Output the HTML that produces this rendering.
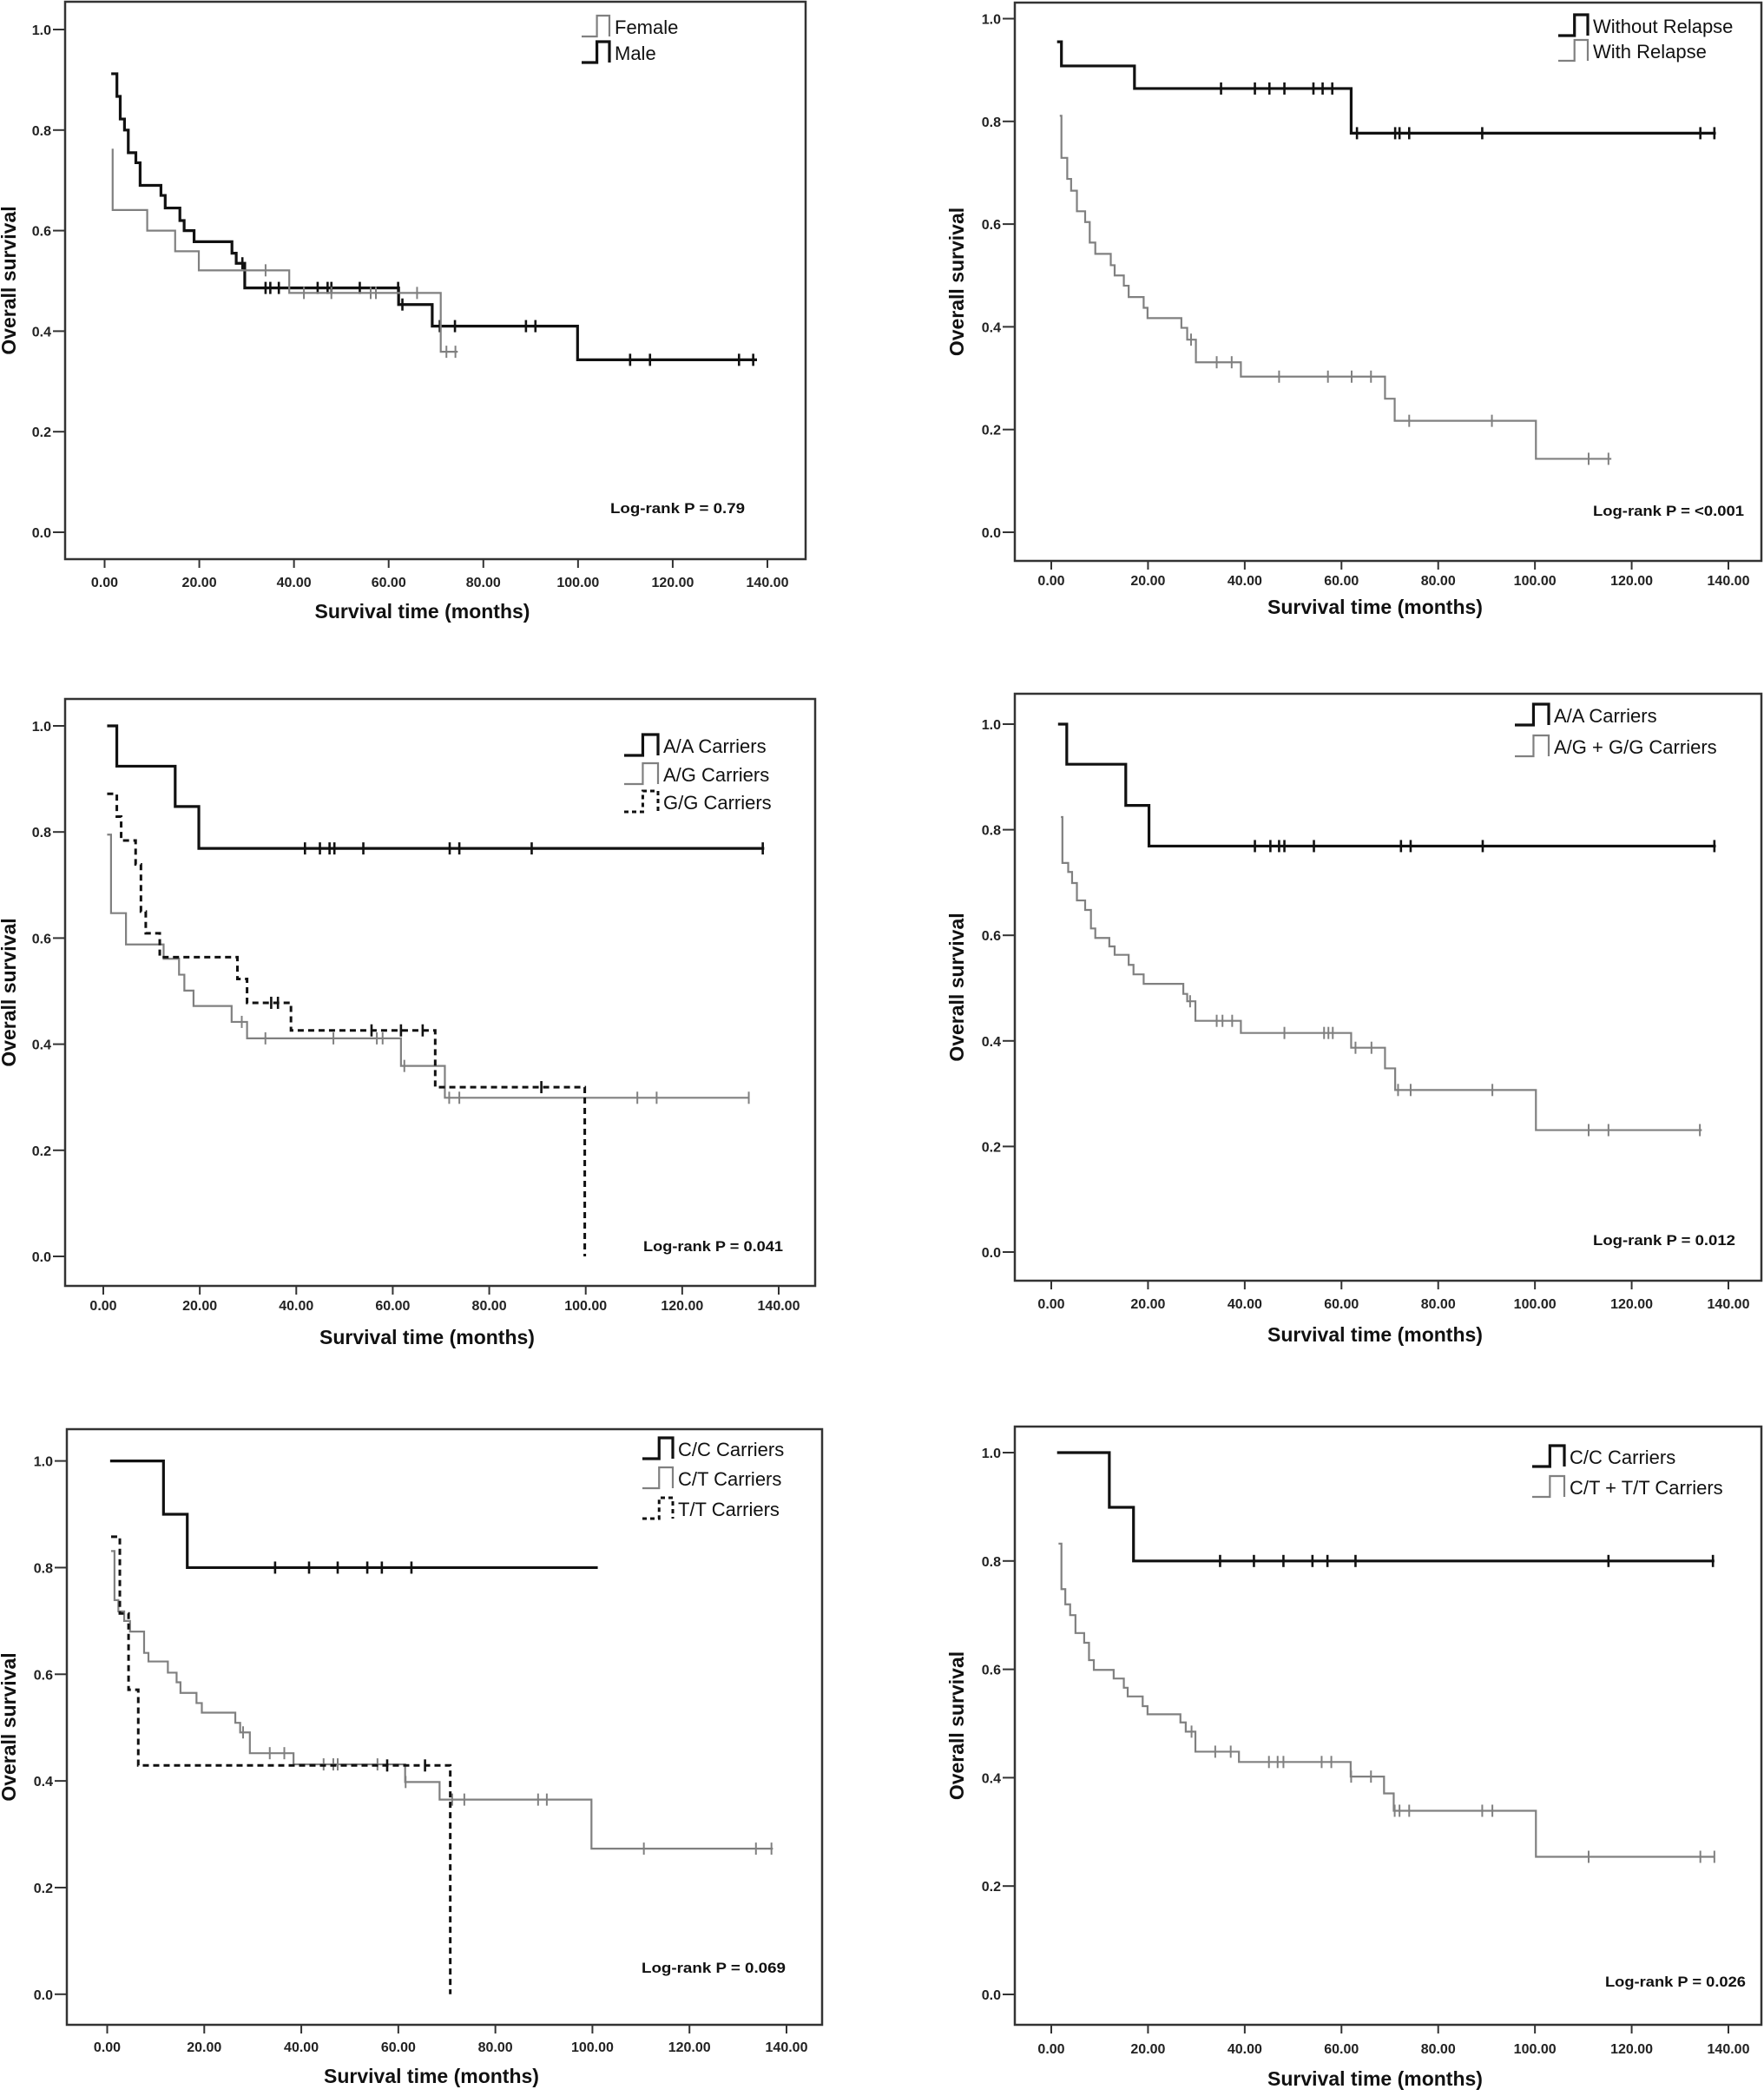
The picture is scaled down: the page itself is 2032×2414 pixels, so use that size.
<!DOCTYPE html>
<html><head><meta charset="utf-8"><style>
html,body{margin:0;padding:0;background:#fff;}
svg{display:block;font-family:"Liberation Sans",sans-serif;}
.tk{font-size:16px;font-weight:bold;fill:#222;}
.ttl{font-size:23px;font-weight:bold;fill:#111;}
.lg{font-size:22px;fill:#111;}
.lr{font-size:17px;font-weight:bold;fill:#111;}
</style></head><body>
<svg id="fig" width="2032" height="2414" viewBox="0 0 2032 2414"></svg>
<script>
// ---------- data (times in months, survival proportions) ----------
const xTickLabels = ["0.00","20.00","40.00","60.00","80.00","100.00","120.00","140.00"];
const xTickValues = [0,20,40,60,80,100,120,140];
const yTickLabels = ["0.0","0.2","0.4","0.6","0.8","1.0"];
const yTickValues = [0,0.2,0.4,0.6,0.8,1.0];

// Panel 1: sex
const p1MaleT = [1.4,2.6,3.3,4.2,5.0,6.6,7.5,11.9,12.8,15.9,16.8,18.9,26.9,27.8,29.6,62.1,69.2,99.9];
const p1MaleV = [0.912,0.867,0.822,0.80,0.755,0.735,0.69,0.67,0.645,0.62,0.60,0.578,0.555,0.535,0.486,0.453,0.41,0.343];
const p1MaleEnd = 137.8;
const p1MaleCens = [29.1,34,35,36.8,45,47.1,47.9,53.9,62,62.9,70.8,74,89,91,111,115.2,134,137];
const p1FemT = [1.5,1.7,9,14.9,19.9,39,71];
const p1FemV = [0.761,0.641,0.60,0.559,0.521,0.476,0.359];
const p1FemEnd = 74.6;
const p1FemCens = [34,42.1,47.9,56.2,57.3,66,72.2,74.1];

// Panel 2: relapse
const p2NoRelT = [1.2,2.1,17.2,62];
const p2NoRelV = [0.955,0.908,0.864,0.777];
const p2NoRelEnd = 137.4;
const p2NoRelCens = [35.1,42.1,45.1,48.2,54.2,56.1,58.1,63.2,71.1,72,74,89.1,134.2,137.1];
const p2RelT = [1.75,2.1,3.3,4.1,5.3,7,7.95,9.1,12.3,13.1,15,16,19.1,19.9,26.9,28.1,29.9,39.2,69,71,100.2];
const p2RelV = [0.811,0.729,0.688,0.665,0.625,0.604,0.564,0.542,0.52,0.50,0.48,0.458,0.437,0.417,0.398,0.375,0.331,0.303,0.26,0.217,0.143];
const p2RelEnd = 115.8;
const p2RelCens = [28.9,34.2,37.3,47.1,57.2,62.1,66.1,74,91.1,111.1,115.2];

// Panel 3: A/A, A/G, G/G
const p3AAT = [0.8,2.8,14.9,19.8];
const p3AAV = [1.0,0.924,0.848,0.769];
const p3AAEnd = 137;
const p3AACens = [41.8,44.9,46.9,47.9,53.9,71.8,73.8,88.8,136.7];
const p3AGT = [0.8,1.6,4.7,12.5,15.7,16.8,18.7,26.6,29.8,61.7,70.8];
const p3AGV = [0.795,0.647,0.588,0.561,0.531,0.501,0.472,0.442,0.411,0.359,0.299];
const p3AGEnd = 133.8;
const p3AGCens = [28.7,33.6,47.7,56.7,57.9,62.4,71.7,73.8,110.7,114.7,133.8];
const p3GGT = [0.8,2.8,3.7,6.7,7.8,8.8,11.7,27.8,29.8,38.9,68.8,99.8];
const p3GGV = [0.872,0.829,0.784,0.739,0.65,0.609,0.564,0.523,0.478,0.426,0.319,0];
const p3GGEnd = 99.8;
const p3GGCens = [34.8,36.2,55.6,61.7,66.2,90.8];

// Panel 4: A/A vs A/G+G/G
const p4AAT = [1.4,3.2,15.4,20.2];
const p4AAV = [1.0,0.924,0.846,0.769];
const p4AAEnd = 137.4;
const p4AACens = [42.1,45.3,47.1,48.2,54.3,72.3,74.3,89.2,137.1];
const p4GT = [2,2.3,3.5,4.3,5.3,7,8.2,9.1,12,13.1,16,17,19.1,27.3,28.1,29.8,39.2,62,69,71.1,100.2];
const p4GV = [0.824,0.737,0.72,0.699,0.666,0.648,0.613,0.595,0.579,0.563,0.544,0.526,0.508,0.489,0.475,0.438,0.415,0.387,0.348,0.307,0.231];
const p4GEnd = 134.5;
const p4GCens = [28.7,34.2,35.4,37.4,48.2,56.4,57.3,58.2,62.9,66.2,71.7,74.3,91.2,111.1,115.2,134.1];

// Panel 5: C/C, C/T, T/T
const p5CCT = [0.6,11.6,16.5];
const p5CCV = [1.0,0.90,0.80];
const p5CCEnd = 101.1;
const p5CCCens = [34.6,41.6,47.5,53.6,56.6,62.7];
const p5CTT = [0.8,1.5,2.3,3.5,4.7,7.6,8.5,12.5,14.3,15.1,18.4,19.5,26.4,27.4,29.4,38.4,61.4,68.5,99.8];
const p5CTV = [0.831,0.739,0.718,0.70,0.68,0.64,0.624,0.603,0.585,0.565,0.546,0.528,0.509,0.491,0.452,0.431,0.398,0.365,0.273];
const p5CTEnd = 137.2;
const p5CTCens = [28,33.5,36.5,44.6,46.6,47.5,55.7,61.5,71.1,73.6,88.8,90.6,110.6,133.7,136.9];
const p5TTT = [0.8,2.6,4.4,6.4,70.7];
const p5TTV = [0.858,0.714,0.571,0.429,0];
const p5TTEnd = 70.7;
const p5TTCens = [57.7,65.5];

// Panel 6: C/C vs C/T+T/T
const p6CCT = [1.2,12,17];
const p6CCV = [1.0,0.899,0.80];
const p6CCEnd = 137.1;
const p6CCCens = [34.9,41.9,48,54,57.1,62.9,115.2,136.8];
const p6TT = [1.5,2.1,2.9,3.9,5,6.8,7.8,8.8,12.9,15,15.8,18.9,19.9,26.7,27.8,29.8,38.8,61.9,68.8,70.8,100.2];
const p6TV = [0.832,0.748,0.72,0.70,0.667,0.649,0.617,0.599,0.583,0.566,0.55,0.532,0.517,0.502,0.485,0.448,0.429,0.402,0.371,0.339,0.254];
const p6TEnd = 137;
const p6TCens = [29,33.9,37.1,45,46.8,48,55.9,57.9,62,66.1,71,72,74,89.1,91.2,111.1,134.2,137.1];

const p1Legend = ["Female","Male"];
const p2Legend = ["Without Relapse","With Relapse"];
const p3Legend = ["A/A Carriers","A/G Carriers","G/G Carriers"];
const p4Legend = ["A/A Carriers","A/G + G/G Carriers"];
const p5Legend = ["C/C Carriers","C/T Carriers","T/T Carriers"];
const p6Legend = ["C/C Carriers","C/T + T/T Carriers"];
const pValues = ["Log-rank P = 0.79","Log-rank P = <0.001","Log-rank P = 0.041","Log-rank P = 0.012","Log-rank P = 0.069","Log-rank P = 0.026"];

// ---------- drawing ----------
const NS = "http://www.w3.org/2000/svg";
const svg = document.getElementById("fig");
function mk(tag, attrs, parent){
  const e = document.createElementNS(NS, tag);
  for (const k in attrs) e.setAttribute(k, attrs[k]);
  (parent||svg).appendChild(e);
  return e;
}
const BLACK = {stroke:"#111","stroke-width":3.2,dash:null};
const GRAY = {stroke:"#808080","stroke-width":2.2,dash:null};
const DASH = {stroke:"#111","stroke-width":3,dash:"7,5"};

function stepAt(ts, vs, t){
  let v = vs[0];
  for (let i=0;i<ts.length;i++){ if (ts[i] <= t + 1e-9) v = vs[i]; }
  return v;
}

function drawPanel(g, cfg, series, legendLabels, pText){
  const sx = t => cfg.x0 + (cfg.x140 - cfg.x0) * t / 140;
  const sy = v => cfg.y0 + (cfg.y1 - cfg.y0) * v;
  const frame = mk("rect",{x:cfg.left,y:cfg.top,width:cfg.right-cfg.left,height:cfg.bottom-cfg.top,fill:"none",stroke:"#333","stroke-width":2.5},g);
  
  
  // y ticks
  yTickValues.forEach((v,i)=>{
    const tk = mk("line",{x1:cfg.left-14,x2:cfg.left,y1:sy(v),y2:sy(v),stroke:"#333","stroke-width":2},g);
    
    
    const tl = mk("text",{x:cfg.left-16,y:sy(v)+6,"text-anchor":"end",class:"tk"},g);
    tl.textContent = yTickLabels[i];
    
    
  });
  // x ticks
  xTickValues.forEach((t,i)=>{
    const tk = mk("line",{x1:sx(t),x2:sx(t),y1:cfg.bottom,y2:cfg.bottom+10,stroke:"#333","stroke-width":2},g);
    
    
    const tl = mk("text",{x:sx(t),y:cfg.xlab,"text-anchor":"middle",class:"tk"},g);
    tl.textContent = xTickLabels[i];
    
    
  });
  const xt = mk("text",{x:(cfg.left+cfg.right)/2 - 15,y:cfg.xtitle,"text-anchor":"middle",class:"ttl"},g);
  xt.textContent = "Survival time (months)";
  
  
  const ym = (cfg.top+cfg.bottom)/2;
  const yt = mk("text",{x:cfg.ytx,y:ym,"text-anchor":"middle",class:"ttl",transform:"rotate(-90 "+cfg.ytx+" "+ym+")"},g);
  yt.textContent = "Overall survival";
  
  
  // series
  series.forEach(s=>{
    let d = "M"+sx(s.t[0])+","+sy(s.v[0]);
    for (let i=1;i<s.t.length;i++) d += " H"+sx(s.t[i])+" V"+sy(s.v[i]);
    d += " H"+sx(s.end);
    const p = mk("path",{d:d,fill:"none",stroke:s.sty.stroke,"stroke-width":s.sty["stroke-width"]},g);
    if (s.sty.dash) p.setAttribute("stroke-dasharray", s.sty.dash);
    
    
    s.c.forEach(t=>{
      const v = stepAt(s.t, s.v, t);
      const m = mk("line",{x1:sx(t),x2:sx(t),y1:sy(v)-7,y2:sy(v)+7,stroke:s.sty.stroke,"stroke-width":s.sty===GRAY?2:2.6},g);
      
      
    });
  });
  // legend
  cfg.legRows.forEach((ly,i)=>{
    const s = series[cfg.legOrder[i]];
    const x0 = cfg.legX, w = cfg.legW;
    const d = "M"+x0+","+(ly+11)+" H"+(x0+w*0.55)+" V"+(ly-13)+" H"+(x0+w)+" V"+(ly+11);
    const p = mk("path",{d:d,fill:"none",stroke:s.sty.stroke,"stroke-width":s.sty["stroke-width"]},g);
    if (s.sty.dash) p.setAttribute("stroke-dasharray","5,4");
    
    
    const t = mk("text",{x:x0+w+6,y:ly+8,class:"lg","font-size":cfg.legFont},g);
    t.textContent = legendLabels[i];
    
    
  });
  const lr = mk("text",{x:cfg.pX,y:cfg.pY,class:"lr",textLength:cfg.pW,lengthAdjust:"spacingAndGlyphs"},g);
  lr.textContent = pText;
  
  
}

function S(name,t,v,end,c,sty){ return {name:name,t:t,v:v,end:end,c:c,sty:sty}; }

const panels = [
 {cfg:{left:75,right:928,top:2,bottom:644,x0:120.5,x140:884,y1:34,y0:613,xlab:676,xtitle:712,ytx:18,
   legRows:[31,61],legOrder:[1,0],legX:670,legW:32,legFont:19,pX:703,pY:591,pW:155},
  series:[S("male",p1MaleT,p1MaleV,p1MaleEnd,p1MaleCens,BLACK),S("female",p1FemT,p1FemV,p1FemEnd,p1FemCens,GRAY)],
  leg:p1Legend,name:"panel-sex"},
 {cfg:{left:1169,right:2029,top:3,bottom:646,x0:1211,x140:1991,y1:21.5,y0:613,xlab:674,xtitle:707,ytx:1110,
   legRows:[30,59],legOrder:[0,1],legX:1795,legW:34,legFont:20,pX:1835,pY:594,pW:174},
  series:[S("without-relapse",p2NoRelT,p2NoRelV,p2NoRelEnd,p2NoRelCens,BLACK),S("with-relapse",p2RelT,p2RelV,p2RelEnd,p2RelCens,GRAY)],
  leg:p2Legend,name:"panel-relapse"},
 {cfg:{left:75,right:939,top:805,bottom:1481,x0:119,x140:897,y1:836,y0:1447,xlab:1509,xtitle:1548,ytx:18,
   legRows:[859,892,924],legOrder:[0,1,2],legX:719,legW:39,legFont:23,pX:741,pY:1441,pW:161},
  series:[S("aa",p3AAT,p3AAV,p3AAEnd,p3AACens,BLACK),S("ag",p3AGT,p3AGV,p3AGEnd,p3AGCens,GRAY),S("gg",p3GGT,p3GGV,p3GGEnd,p3GGCens,DASH)],
  leg:p3Legend,name:"panel-aa-ag-gg"},
 {cfg:{left:1169,right:2029,top:799,bottom:1475,x0:1211,x140:1991,y1:834,y0:1442,xlab:1507,xtitle:1545,ytx:1110,
   legRows:[824,860],legOrder:[0,1],legX:1745,legW:39,legFont:23,pX:1835,pY:1434,pW:164},
  series:[S("aa",p4AAT,p4AAV,p4AAEnd,p4AACens,BLACK),S("ag-gg",p4GT,p4GV,p4GEnd,p4GCens,GRAY)],
  leg:p4Legend,name:"panel-aa-vs-ag-gg"},
 {cfg:{left:77,right:947,top:1646,bottom:2332,x0:123.5,x140:906,y1:1682.6,y0:2296.8,xlab:2363,xtitle:2399,ytx:18,
   legRows:[1669,1703,1738],legOrder:[0,1,2],legX:740,legW:35,legFont:23,pX:739,pY:2272,pW:166},
  series:[S("cc",p5CCT,p5CCV,p5CCEnd,p5CCCens,BLACK),S("ct",p5CTT,p5CTV,p5CTEnd,p5CTCens,GRAY),S("tt",p5TTT,p5TTV,p5TTEnd,p5TTCens,DASH)],
  leg:p5Legend,name:"panel-cc-ct-tt"},
 {cfg:{left:1169,right:2029,top:1643,bottom:2332,x0:1211,x140:1991,y1:1673,y0:2297,xlab:2365,xtitle:2402,ytx:1110,
   legRows:[1678,1713],legOrder:[0,1],legX:1765,legW:37,legFont:23,pX:1849,pY:2288,pW:162},
  series:[S("cc",p6CCT,p6CCV,p6CCEnd,p6CCCens,BLACK),S("ct-tt",p6TT,p6TV,p6TEnd,p6TCens,GRAY)],
  leg:p6Legend,name:"panel-cc-vs-ct-tt"}
];
panels.forEach((p,i)=>{
  const g = mk("g",{});
  
  
  drawPanel(g, p.cfg, p.series, p.leg, pValues[i]);
});
</script>
</body></html>
